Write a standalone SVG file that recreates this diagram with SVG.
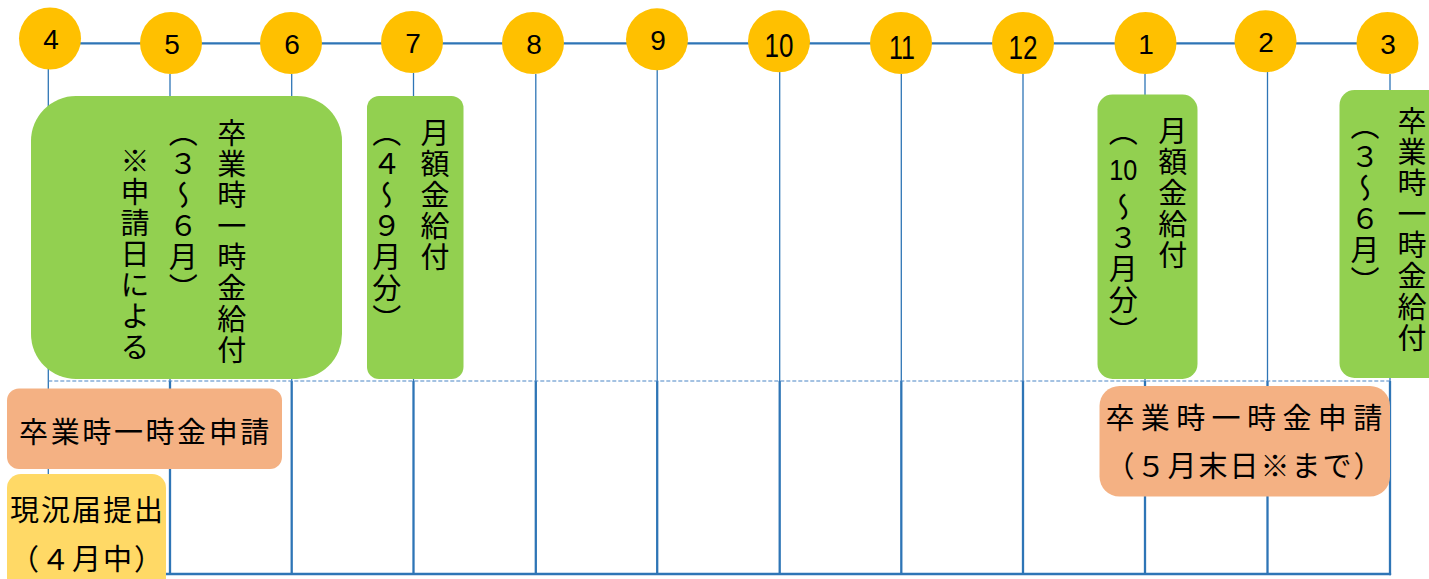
<svg xmlns="http://www.w3.org/2000/svg" width="1429" height="579" viewBox="0 0 1429 579">
<style>
.ln{stroke:#2e75b6;fill:none}
.thin{stroke-width:1.3}
.thick{stroke-width:2.3}
.dash{stroke:#4a86c5;stroke-width:1.2;stroke-dasharray:4 2;fill:none}
.mc{fill:#ffc000}
.num{font-family:"Liberation Sans",Arial,sans-serif;font-size:28px;fill:#000;text-anchor:middle}
.num2{font-family:"Liberation Sans",Arial,sans-serif;font-size:33px;fill:#000;text-anchor:middle}
.green{fill:#92d050}
.orange{fill:#f4b183}
.yellow{fill:#ffd966}
.jp{font-family:"Noto Sans CJK JP","Noto Sans CJK SC",sans-serif;font-size:29px;fill:#000}
.v{writing-mode:vertical-rl;letter-spacing:2px}
</style>
<g id="connectors">
<line class="ln thick" x1="50" y1="43.3" x2="1387" y2="43.3"/>
<g class="ln thin">
<line x1="48.3" y1="69" x2="48.3" y2="474"/>
<line x1="170" y1="74" x2="170" y2="381"/>
<line x1="291.7" y1="74" x2="291.7" y2="381"/>
<line x1="413.5" y1="73" x2="413.5" y2="381"/>
<line x1="535.8" y1="74" x2="535.8" y2="381"/>
<line x1="657.2" y1="70" x2="657.2" y2="381"/>
<line x1="779.7" y1="72" x2="779.7" y2="381"/>
<line x1="901.3" y1="74" x2="901.3" y2="381"/>
<line x1="1023" y1="74" x2="1023" y2="381"/>
<line x1="1145" y1="74" x2="1145" y2="381"/>
<line x1="1267.5" y1="72" x2="1267.5" y2="381"/>
<line x1="1390" y1="74" x2="1390" y2="381"/>
</g>
<g class="ln thick">
<line x1="170" y1="381" x2="170" y2="574"/>
<line x1="291.7" y1="381" x2="291.7" y2="574"/>
<line x1="413.5" y1="381" x2="413.5" y2="574"/>
<line x1="535.8" y1="381" x2="535.8" y2="574"/>
<line x1="657.2" y1="381" x2="657.2" y2="574"/>
<line x1="779.7" y1="381" x2="779.7" y2="574"/>
<line x1="901.3" y1="381" x2="901.3" y2="574"/>
<line x1="1023" y1="381" x2="1023" y2="574"/>
<line x1="1145" y1="381" x2="1145" y2="574"/>
<line x1="1267.5" y1="381" x2="1267.5" y2="574"/>
<line x1="1390" y1="381" x2="1390" y2="575.2"/>
<line x1="48" y1="574" x2="1391.1" y2="574"/>
</g>
<line class="dash" x1="48.3" y1="381" x2="1390" y2="381"/>
</g>
<g id="m4"><circle class="mc" cx="50" cy="38.5" r="31"/><text class="num" x="51" y="49">4</text></g>
<g id="m5"><circle class="mc" cx="171" cy="43" r="31"/><text class="num" x="172" y="53.5">5</text></g>
<g id="m6"><circle class="mc" cx="291" cy="43" r="31"/><text class="num" x="292" y="53.5">6</text></g>
<g id="m7"><circle class="mc" cx="412" cy="42" r="31"/><text class="num" x="413" y="52.5">7</text></g>
<g id="m8"><circle class="mc" cx="533" cy="43" r="31"/><text class="num" x="534" y="53.5">8</text></g>
<g id="m9"><circle class="mc" cx="657" cy="39.3" r="31"/><text class="num" x="658" y="50">9</text></g>
<g id="m10"><circle class="mc" cx="779" cy="41.3" r="31"/><text class="num2" x="779" y="57" textLength="29" lengthAdjust="spacingAndGlyphs">10</text></g>
<g id="m11"><circle class="mc" cx="901" cy="43" r="31"/><text class="num2" x="902" y="59" textLength="26" lengthAdjust="spacingAndGlyphs">11</text></g>
<g id="m12"><circle class="mc" cx="1023" cy="43" r="31"/><text class="num2" x="1023" y="59" textLength="29" lengthAdjust="spacingAndGlyphs">12</text></g>
<g id="m1"><circle class="mc" cx="1145.5" cy="43" r="31"/><text class="num" x="1146" y="53.5">1</text></g>
<g id="m2"><circle class="mc" cx="1265.5" cy="41.3" r="31"/><text class="num" x="1266" y="52">2</text></g>
<g id="m3"><circle class="mc" cx="1387.5" cy="43" r="31"/><text class="num" x="1388" y="53.5">3</text></g>
<g id="pay-grad-1">
<rect class="green" x="31" y="96" width="311" height="283" rx="45"/>
<text class="jp v" x="231.7" y="118">卒業時一時金給付</text>
<text class="jp v" x="183.3" y="118">（３～６月）</text>
<text class="jp v" x="135" y="146">※申請日による</text>
</g>
<g id="pay-monthly-1">
<rect class="green" x="367" y="96" width="96.5" height="283" rx="12"/>
<text class="jp v" x="435" y="118">月額金給付</text>
<text class="jp v" x="386.7" y="118">（４～９月分）</text>
</g>
<g id="pay-monthly-2">
<rect class="green" x="1097.5" y="94.5" width="100" height="284.5" rx="15"/>
<text class="jp v" x="1172.7" y="116">月額金給付</text>
<text class="jp v" x="1123.3" y="117">（</text>
<text class="num2" x="1123.3" y="180" textLength="28" lengthAdjust="spacingAndGlyphs" style="font-size:30px">10</text>
<text class="jp v" x="1123.3" y="192">～３月分）</text>
</g>
<g id="pay-grad-2">
<rect class="green" x="1339.5" y="90" width="110" height="288" rx="15"/>
<text class="jp v" x="1412" y="106">卒業時一時金給付</text>
<text class="jp v" x="1365" y="111">（３～６月）</text>
</g>
<g id="apply-1">
<rect class="orange" x="7" y="388.5" width="275" height="80.5" rx="12"/>
<text class="jp" x="145.5" y="443" text-anchor="middle" style="letter-spacing:2.6px">卒業時一時金申請</text>
</g>
<g id="status-report">
<rect class="yellow" x="7" y="474" width="159" height="120" rx="14"/>
<text class="jp" x="87.5" y="521" text-anchor="middle" style="letter-spacing:2px">現況届提出</text>
<text class="jp" x="87.5" y="570" text-anchor="middle" style="letter-spacing:2px">（４月中）</text>
</g>
<g id="apply-2">
<rect class="orange" x="1099.5" y="386" width="290.5" height="110.5" rx="20"/>
<text class="jp" x="1247" y="429" text-anchor="middle" style="letter-spacing:6.4px">卒業時一時金申請</text>
<text class="jp" x="1245" y="477" text-anchor="middle" style="letter-spacing:2px">（５月末日※まで）</text>
</g>
</svg>
